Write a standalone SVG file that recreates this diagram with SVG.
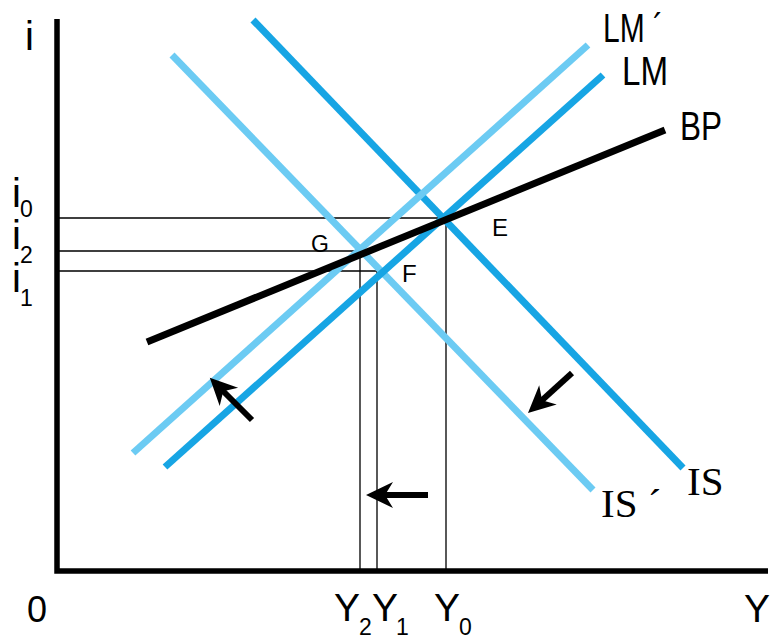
<svg xmlns="http://www.w3.org/2000/svg" width="771" height="640" viewBox="0 0 771 640">
<style>
.axis{stroke:#000;stroke-width:5.5;fill:none}
.guide{stroke:#000;stroke-width:1.3;fill:none}
.dark{stroke:#17A5E4;stroke-width:7;fill:none}
.light{stroke:#6CCBF3;stroke-width:7;fill:none}
.bp{stroke:#000;stroke-width:7;fill:none}
.arr{stroke:#000;stroke-width:6;fill:none;marker-end:url(#head)}
.sans{font-family:"Liberation Sans",Arial,sans-serif;fill:#000}
.serif{font-family:"Liberation Serif","Times New Roman",serif;fill:#000}
</style>
<defs>
<marker id="head" viewBox="-16 -15 32 30" markerUnits="userSpaceOnUse" markerWidth="32" markerHeight="30" refX="0" refY="0" orient="auto">
<path d="M13,0 L-14,-13 L-6,0 L-14,13 Z" fill="#000"/>
</marker>
</defs>
<rect width="771" height="640" fill="#fff"/>
<g id="axes">
<polyline class="axis" points="57,19 57,571 768,571"/>
</g>
<g id="guides">
<polyline class="guide" points="58,218 446,218 446,571"/>
<polyline class="guide" points="58,251 360,251 360,571"/>
<polyline class="guide" points="58,271 377,271 377,571"/>
</g>
<g id="connectors">
<line id="IS" class="dark" x1="253" y1="20" x2="683" y2="468"/>
<line id="ISp" class="light" x1="172" y1="55" x2="593" y2="490"/>
<line id="LMp" class="light" x1="133" y1="453" x2="588" y2="45"/>
<line id="LM" class="dark" x1="165" y1="467" x2="603" y2="75"/>
<line id="BP" class="bp" x1="147" y1="342" x2="665" y2="130"/>
<line class="arr" x1="252" y1="420" x2="219" y2="387"/>
<line class="arr" x1="428" y1="495" x2="379" y2="495"/>
<line class="arr" x1="572" y1="373" x2="537.6" y2="404.3"/>
</g>
<g id="labels">
<text class="sans" x="25" y="50" font-size="40">i</text>
<text class="sans" x="27" y="622" font-size="36">0</text>
<text class="sans" x="744" y="622" font-size="39">Y</text>
<text class="sans" x="12" y="207" font-size="40">i</text>
<text class="sans" x="20" y="217" font-size="23">0</text>
<text class="sans" x="12" y="249" font-size="40">i</text>
<text class="sans" x="20" y="263" font-size="23">2</text>
<text class="sans" x="12" y="292" font-size="40">i</text>
<text class="sans" x="20" y="306" font-size="23">1</text>
<text class="sans" x="334" y="621" font-size="39">Y</text>
<text class="sans" x="359" y="635" font-size="23">2</text>
<text class="sans" x="372" y="621" font-size="39">Y</text>
<text class="sans" x="396" y="635" font-size="23">1</text>
<text class="sans" x="434" y="621" font-size="39">Y</text>
<text class="sans" x="459" y="635" font-size="23">0</text>
<text class="sans" x="311" y="252" font-size="23">G</text>
<text class="sans" x="402" y="282" font-size="24">F</text>
<text class="sans" x="492" y="236" font-size="24">E</text>
<text class="sans" x="603" y="42" font-size="40" textLength="60" lengthAdjust="spacingAndGlyphs">LM ´</text>
<text class="sans" x="622" y="85" font-size="40" textLength="46" lengthAdjust="spacingAndGlyphs">LM</text>
<text class="sans" x="680" y="140" font-size="40" textLength="42" lengthAdjust="spacingAndGlyphs">BP</text>
<text class="serif" x="687" y="495" font-size="41">IS</text>
<text class="serif" x="601" y="517" font-size="41">IS ´</text>
</g>
</svg>
